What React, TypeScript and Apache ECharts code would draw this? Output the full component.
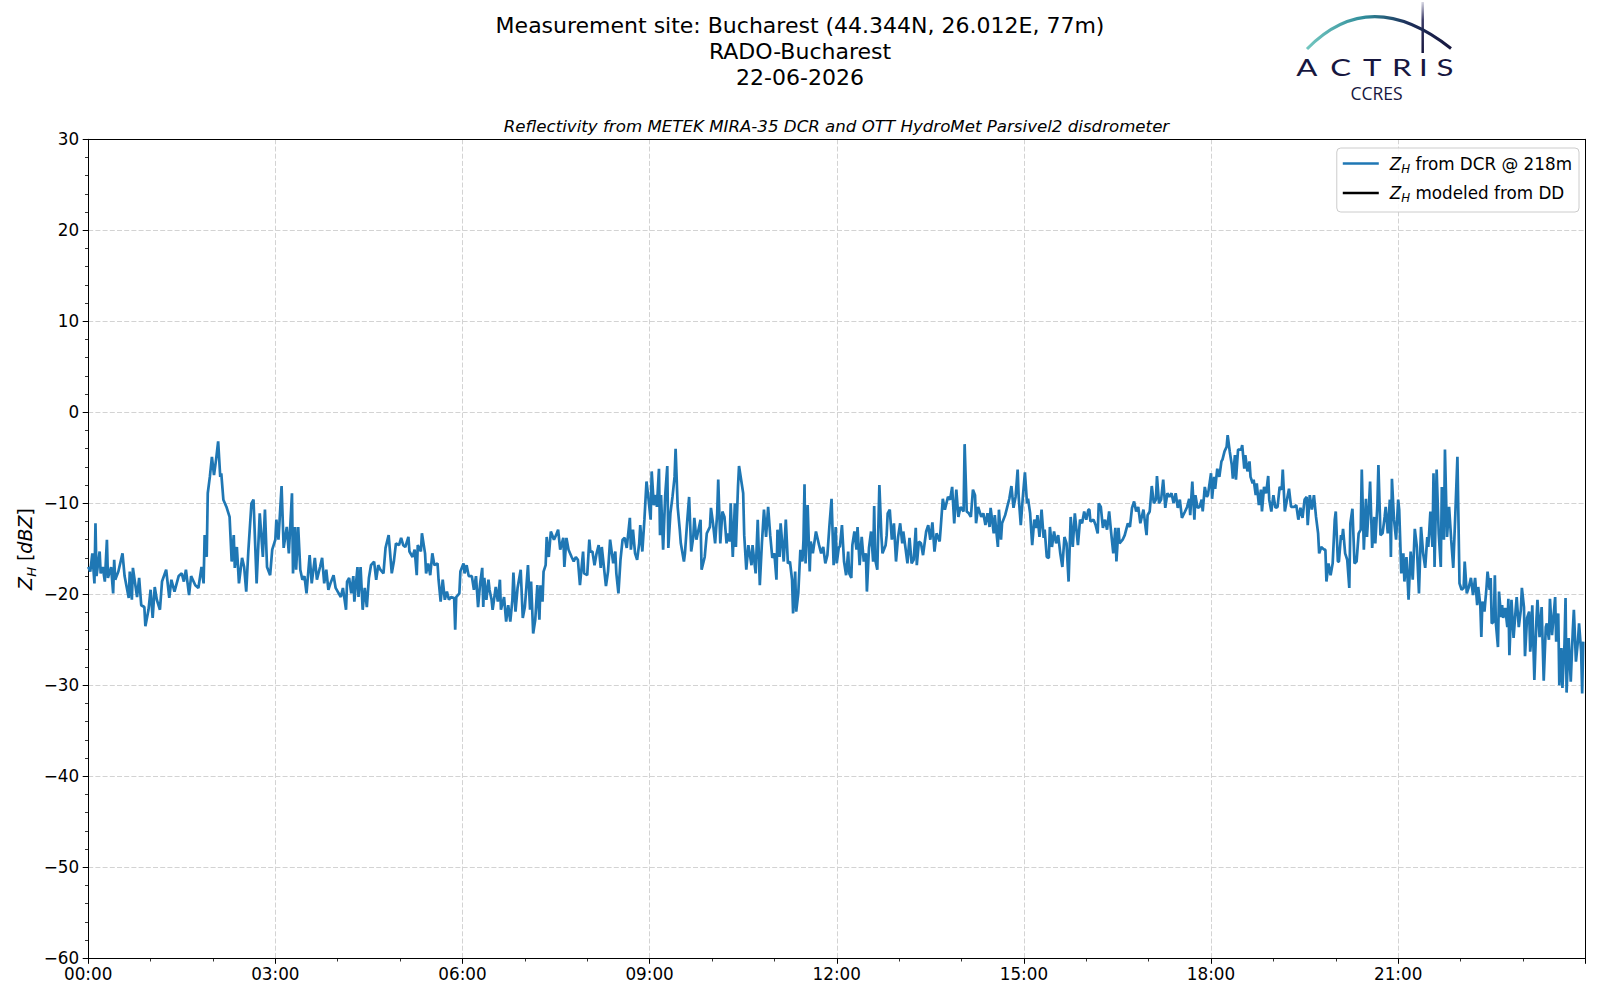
import React, { useEffect, useRef } from "react";
import * as echarts from "echarts";

// ---- Data ----
// time in minutes after 00:00 UTC
const timeMin = [
  0, 2, 4, 6, 7, 8, 11, 12, 14, 16, 18, 19, 22, 24, 25, 26, 29, 33, 35, 39,
  40, 42, 43, 47, 49, 51, 54, 55, 58, 60, 62, 64, 66, 69, 71, 75, 78, 80, 83, 87,
  90, 92, 94, 97, 99, 103, 106, 109, 111, 112, 114, 115, 117, 119, 121, 123, 125, 127, 128, 130,
  133, 136, 138, 140, 141, 143, 145, 148, 150, 152, 154, 156, 157, 159, 162, 165, 168, 170, 172, 175,
  177, 180, 181, 183, 186, 188, 191, 193, 196, 197, 199, 200, 202, 204, 206, 208, 210, 213, 215, 218,
  220, 223, 225, 227, 229, 231, 233, 236, 238, 240,
  243, 245, 248, 249, 251, 253, 255, 256, 259, 260, 262, 264, 266, 268, 270, 272, 275, 277, 279, 281,
  284, 286, 289, 292, 294, 296, 299, 301, 303, 305, 308, 309, 312, 314, 316, 317, 320, 321, 324, 325,
  327, 329, 331, 333, 336, 337, 339, 341, 343, 345, 347, 349, 352, 353, 354, 357, 358, 361, 362, 364,
  366, 369, 371, 373, 375, 377, 379, 380, 381, 383, 385, 386, 388, 389, 392, 394, 396, 397, 400, 402,
  404, 406, 408, 409, 411, 413, 416, 418, 420, 421, 423, 425, 426, 428, 430, 432, 434, 435, 437, 438,
  440, 441, 443, 445, 448, 450, 452, 454, 457, 458, 460, 462, 465, 467, 469, 471, 473, 476, 477, 480, 482,
  483, 485, 487, 489, 491, 493, 494, 498, 500, 502, 505, 507, 508, 510, 512, 514, 516, 518, 521, 522,
  524, 526, 528, 530, 531, 533, 535, 537, 539, 541, 542, 544, 546, 547, 549, 550, 551, 553, 555, 557,
  558, 560, 562, 564, 565, 567, 569, 570, 573, 574, 576, 578, 580, 582, 583, 585, 587, 589, 590, 593,
  595, 598, 599, 601, 603, 605, 606, 608, 610, 612, 614, 615, 617, 618, 620, 622, 623, 625, 626, 630,
  631, 633, 635, 638, 639, 642, 644, 646, 648, 650, 652, 654, 656, 658, 660, 662, 663, 665, 666, 669,
  671, 673, 675, 677, 678, 680, 681, 683, 685, 687, 688, 689, 690, 692, 694, 695, 697, 700, 703, 705,
  707, 709, 711, 713, 715, 717, 719, 720, 722,
  723, 725, 727, 729, 731, 732, 734, 735, 737, 739, 740, 742, 744, 746, 748, 749, 751, 753, 755, 756,
  757, 759, 761, 763, 764, 767, 768, 769, 771, 773, 775, 777, 779, 781, 783, 784, 786, 788, 790, 792,
  794, 796, 797, 799, 801, 803, 806, 808, 810, 812, 814, 816, 819, 820, 822, 824, 827, 829, 831, 833,
  835, 837, 839, 842, 843, 845, 847, 849, 851, 853, 854, 856, 859, 861, 863, 865, 867, 868, 871, 872,
  875, 876, 878, 879, 882, 884, 886, 888, 890, 892, 894, 895, 897, 899, 901, 903, 904, 906, 908, 910,
  912, 913, 915, 917, 919, 920, 922, 924, 925, 927, 929, 931, 933, 935, 937, 939, 941, 943, 945, 947,
  949, 952, 954, 956, 958, 960, 962,
  963, 964, 967, 969, 971, 972, 974, 976, 978, 980, 982, 984, 985, 986, 988, 989, 991, 992, 995, 997,
  1000, 1002, 1004, 1006, 1008, 1010, 1012, 1015, 1017, 1018, 1019, 1021, 1023, 1025, 1027, 1028, 1030, 1032, 1034, 1036,
  1038, 1040, 1042, 1044, 1046, 1048, 1050, 1052, 1055, 1057, 1059, 1060, 1062, 1064, 1065, 1067, 1069, 1071, 1072, 1074,
  1076, 1077, 1080, 1081, 1083, 1084, 1086, 1088, 1090, 1091, 1093, 1095, 1096, 1098, 1100, 1101, 1103, 1104, 1106, 1109,
  1110, 1112, 1113, 1115, 1117, 1118, 1120, 1121, 1123, 1124, 1126, 1128, 1129, 1131, 1133, 1135, 1136, 1138, 1140, 1142,
  1144, 1146, 1148, 1149, 1151, 1153, 1155, 1157, 1160, 1162, 1164, 1166, 1168, 1170, 1172, 1173, 1175, 1177, 1179, 1181,
  1183, 1184, 1186, 1189, 1190, 1191, 1193, 1195, 1197, 1199, 1200, 1202,
  1203, 1205, 1206, 1207, 1209, 1211, 1213, 1214, 1216, 1218, 1220, 1222, 1224, 1225, 1227, 1229, 1230, 1232, 1233, 1235,
  1237, 1238, 1240, 1241, 1243, 1245, 1247, 1248, 1250, 1252, 1253, 1254, 1256, 1258, 1260, 1261, 1263, 1265, 1266, 1268,
  1270, 1272, 1274, 1276, 1278, 1280, 1282, 1284, 1286, 1288, 1289, 1291, 1293, 1294, 1295, 1297, 1299, 1301, 1302, 1304,
  1305, 1307, 1309, 1311, 1313, 1315, 1317, 1319, 1321, 1323, 1324, 1326, 1328, 1330, 1332, 1334, 1336,
  1337, 1339, 1340, 1341, 1343, 1345, 1346, 1348, 1349, 1350, 1352, 1353, 1354, 1356, 1357, 1359, 1360, 1361, 1363, 1365,
  1366, 1367, 1369, 1371, 1373, 1374, 1376, 1378, 1379, 1381, 1382, 1384, 1386, 1387, 1388, 1389, 1391, 1393, 1394, 1396,
  1398, 1400, 1402, 1403, 1405, 1406, 1408, 1411, 1412, 1414, 1415, 1417, 1418, 1420, 1421, 1422, 1424, 1426, 1428, 1429,
  1431, 1433, 1434, 1436, 1437, 1438,
];

// Z_H from DCR @ 218m [dBZ]
const zhDcr = [
  -17.0, -17.5, -15.5, -18.8, -12.2, -18.0, -15.3, -17.7, -17.0, -18.6, -14.0, -18.2, -17.0, -19.9, -16.2, -18.4, -17.5, -15.5, -18.0, -20.4,
  -17.5, -20.6, -17.1, -20.3, -18.2, -21.2, -21.4, -23.5, -21.7, -19.5, -22.6, -19.2, -20.6, -21.7, -18.6, -17.3, -20.4, -18.4, -19.7, -18.0,
  -17.7, -18.6, -17.3, -20.1, -18.0, -19.0, -19.3, -17.0, -18.8, -13.5, -15.9, -8.9, -7.1, -4.9, -6.9, -5.2, -3.2, -7.1, -6.7, -9.6,
  -10.4, -11.5, -16.4, -13.5, -17.1, -14.8, -18.8, -16.0, -17.0, -19.7, -15.3, -11.8, -10.0, -9.6, -18.8, -11.1, -15.9, -10.7, -17.0, -17.9,
  -15.1, -14.0, -11.8, -14.0, -8.1, -14.9, -12.6, -15.5, -8.9, -17.7, -12.6, -17.3, -12.6, -17.3, -18.4, -18.0, -19.9, -15.7, -18.8, -16.0,
  -18.4, -17.0, -16.0, -18.8, -17.3, -19.5, -18.8, -17.9, -19.3, -19.7,
  -20.3, -19.3, -21.7, -18.6, -18.2, -19.9, -18.0, -20.8, -17.0, -20.3, -17.0, -21.7, -19.3, -21.4, -18.2, -16.8, -16.4, -18.4, -16.8, -17.3,
  -17.7, -14.9, -13.5, -17.7, -16.4, -14.4, -14.6, -13.8, -14.6, -14.8, -13.7, -15.3, -15.9, -15.1, -17.9, -14.6, -15.3, -13.3, -15.5, -17.7,
  -16.6, -17.9, -15.5, -16.8, -16.6, -18.4, -20.8, -18.4, -20.6, -19.7, -20.6, -20.3, -20.4, -23.9, -20.3, -19.9, -17.5, -16.6, -17.7, -16.8,
  -18.0, -18.0, -19.5, -18.0, -21.4, -18.8, -17.1, -21.4, -18.2, -20.6, -18.4, -19.5, -20.6, -21.7, -19.2, -20.8, -18.4, -21.7, -20.3, -23.0,
  -21.2, -23.0, -20.6, -17.6, -21.9, -19.3, -17.3, -22.6, -21.4, -19.9, -16.8, -21.7, -18.6, -24.3, -22.8, -19.0, -22.8, -19.0, -20.8, -17.5,
  -16.8, -13.7, -15.9, -13.1, -14.0, -13.5, -12.9, -15.1, -13.8, -17.0, -13.8, -15.1, -15.9, -16.4, -15.9, -16.2, -19.0, -15.3, -17.7, -17.9, -14.0,
  -15.3, -15.3, -16.8, -15.5, -14.6, -17.1, -14.8, -19.1, -17.5, -14.0, -16.6, -15.3, -17.7, -19.9, -16.2, -14.0, -13.8, -14.9, -11.6, -15.1,
  -12.9, -15.5, -16.2, -14.4, -12.4, -15.3, -11.8, -7.6, -9.6, -11.8, -6.5, -10.2, -9.1, -10.4, -6.2, -13.5, -9.1, -15.1, -9.1, -5.9,
  -14.9, -11.1, -9.3, -7.1, -4.0, -10.4, -12.9, -14.4, -16.4, -15.5, -12.2, -9.3, -15.3, -13.7, -11.6, -14.0, -12.9, -11.8, -17.3, -15.9,
  -13.3, -12.6, -10.5, -12.2, -14.4, -11.1, -7.4, -14.4, -10.9, -11.5, -14.4, -13.3, -14.2, -10.0, -15.9, -10.0, -14.8, -8.2, -5.9, -8.9,
  -13.5, -17.3, -14.6, -16.8, -14.6, -17.7, -11.8, -19.0, -14.4, -10.7, -13.7, -10.4, -13.5, -16.0, -15.5, -18.4, -12.9, -15.9, -12.2, -16.4,
  -11.8, -16.6, -16.4, -18.4, -22.1, -17.5, -21.9, -19.9, -15.1, -16.4, -14.0, -7.9, -16.6, -10.2, -17.5, -14.2, -15.5, -13.1, -14.6, -15.5,
  -14.8, -16.6, -15.7, -12.4, -9.5, -16.8, -12.6, -16.6, -14.8,
  -14.8, -12.4, -16.4, -17.9, -15.3, -17.7, -18.2, -14.6, -13.1, -15.1, -12.6, -16.8, -13.7, -16.4, -15.5, -19.7, -14.9, -13.1, -16.4, -10.3,
  -16.2, -17.3, -8.0, -13.7, -15.5, -14.6, -13.5, -11.1, -10.7, -14.0, -12.2, -16.4, -13.7, -12.2, -14.4, -13.1, -14.8, -16.6, -13.8, -16.6,
  -16.2, -12.7, -16.8, -14.2, -14.4, -15.7, -13.1, -12.4, -14.0, -12.1, -15.3, -13.3, -14.2, -12.7, -9.5, -10.7, -9.3, -9.6, -8.2, -12.2,
  -8.5, -11.5, -10.4, -10.9, -3.5, -10.9, -11.1, -11.5, -8.5, -9.1, -12.2, -10.4, -11.5, -11.1, -12.4, -11.1, -12.6, -10.5, -13.3, -11.3,
  -14.8, -10.7, -14.0, -12.2, -11.3, -10.4, -9.5, -8.1, -10.5, -9.3, -6.3, -9.3, -12.4, -9.3, -6.6, -10.0, -9.5, -11.1, -14.6, -11.8,
  -12.7, -11.3, -13.7, -10.7, -13.8, -12.9, -15.9, -16.0, -12.6, -14.8, -13.1, -14.4, -13.5, -15.5, -17.0, -13.7, -14.4, -18.6, -11.5, -14.8,
  -11.1, -14.6, -11.8, -12.2, -10.9, -11.8, -10.7,
  -10.7, -12.0, -11.8, -12.4, -13.3, -10.0, -10.4, -12.7, -11.8, -12.9, -10.9, -13.3, -14.4, -15.5, -12.7, -16.4, -12.7, -14.4, -14.0, -13.5,
  -12.2, -12.6, -10.5, -9.8, -10.9, -10.4, -12.2, -10.7, -12.6, -13.5, -11.3, -10.9, -8.1, -10.0, -9.6, -7.0, -10.0, -9.6, -7.4, -10.5,
  -8.9, -9.3, -8.9, -10.0, -8.9, -10.5, -9.6, -11.6, -10.9, -10.4, -9.5, -11.3, -7.6, -11.8, -9.1, -10.5, -10.4, -9.6, -10.9, -8.2,
  -9.3, -9.1, -6.7, -9.5, -7.1, -8.4, -6.2, -7.1, -5.4, -5.2, -4.3, -3.8, -2.5, -4.3, -5.8, -7.3, -4.7, -7.4, -4.1, -4.1,
  -3.6, -6.2, -4.7, -6.5, -5.4, -7.1, -7.8, -7.4, -9.1, -7.8, -10.2, -8.5, -10.9, -8.2, -8.9, -7.0, -9.6, -10.9, -9.1, -10.5,
  -10.4, -8.2, -8.5, -6.3, -10.9, -9.6, -8.4, -10.4, -10.4, -10.2, -11.8, -10.5, -11.6, -9.6, -9.3, -12.4, -9.1, -10.7, -9.1, -11.5,
  -13.3, -15.5, -14.8, -15.1, -15.1, -18.6, -16.6, -17.9, -16.6, -11.8, -10.9, -16.4,
  -16.4, -13.5, -14.0, -12.8, -15.5, -16.2, -19.3, -12.2, -10.6, -16.6, -16.4, -13.3, -12.9, -6.3, -15.1, -9.5, -13.7, -10.0, -7.6, -14.9,
  -11.5, -14.4, -10.2, -5.8, -13.5, -13.3, -11.5, -10.4, -13.3, -9.6, -15.9, -7.3, -11.8, -14.0, -9.6, -10.7, -17.7, -15.5, -18.6, -15.9,
  -20.6, -15.3, -18.4, -12.8, -14.8, -19.9, -12.6, -15.5, -17.1, -13.7, -14.8, -10.9, -14.8, -6.7, -17.0, -6.3, -13.3, -17.0, -8.2, -14.0,
  -4.1, -13.7, -10.4, -14.0, -17.1, -11.1, -4.9, -18.8, -19.5, -19.3, -16.4, -19.9, -19.2, -18.2, -20.1, -18.2, -21.2,
  -19.2, -21.2, -24.7, -20.8, -21.9, -19.2, -17.5, -19.5, -18.2, -23.2, -23.0, -17.9, -23.2, -25.8, -19.7, -22.5, -21.2, -22.6, -21.5, -23.6,
  -20.5, -26.7, -20.6, -24.8, -21.7, -20.3, -23.6, -21.7, -19.3, -21.4, -26.8, -22.6, -21.9, -26.3, -25.0, -21.2, -29.4, -22.8, -20.6, -24.7,
  -21.4, -29.5, -23.6, -23.2, -25.0, -20.5, -24.5, -20.3, -25.2, -22.1, -30.0, -25.9, -30.3, -25.4, -20.4, -30.8, -24.8, -29.6, -23.9, -21.7,
  -27.4, -25.0, -23.2, -26.3, -30.9, -25.2,
];

// Z_H modeled from the disdrometer (no data on this day)
const zhModeled: number[] = [];

const xTickLabels = ["00:00", "03:00", "06:00", "09:00", "12:00", "15:00", "18:00", "21:00"];

const titleLines = [
  "Measurement site: Bucharest (44.344N, 26.012E, 77m)",
  "RADO-Bucharest",
  "22-06-2026",
];
const subTitle = "Reflectivity from METEK MIRA-35 DCR and OTT HydroMet Parsivel2 disdrometer";
const logoLetters = ["A", "C", "T", "R", "I", "S"];

const FONT = "DejaVu Sans";
const BLUE = "#1f77b4";
const NAVY = "#17173f";

export default function App() {
  const ref = useRef<HTMLDivElement>(null);

  useEffect(() => {
    if (!ref.current) return;
    const chart = echarts.init(ref.current, null, { renderer: "svg" });

    const subRich = {
      z: { fontFamily: FONT, fontSize: 16.8, fontStyle: "italic", color: "#000", lineHeight: 22 },
      s: { fontFamily: FONT, fontSize: 11.8, fontStyle: "italic", color: "#000", lineHeight: 12, verticalAlign: "bottom" },
      t: { fontFamily: FONT, fontSize: 16.8, color: "#000", lineHeight: 22 },
      g: { width: 6, lineHeight: 22 },
    };

    const legendNames: Record<string, string> = {
      dcr: "{g|}{z|Z}{s|H}{t| from DCR @ 218m}",
      dd: "{g|}{z|Z}{s|H}{t| modeled from DD}",
    };

    const letterX = [1306.7, 1340.7, 1372.3, 1401.7, 1423.3, 1445];

    const graphics: any[] = [
      {
        type: "text",
        x: 800,
        y: 51.5,
        style: {
          text: titleLines.join("\n"),
          fontFamily: FONT,
          fontSize: 22,
          lineHeight: 25.8,
          fill: "#000",
          align: "center",
          verticalAlign: "middle",
        },
      },
      {
        type: "text",
        x: 836.5,
        y: 126,
        style: { text: subTitle, fontFamily: FONT, fontSize: 16.65, fontStyle: "italic", fill: "#000", align: "center", verticalAlign: "middle" },
      },
      {
        type: "text",
        x: 25,
        y: 549,
        rotation: Math.PI / 2,
        style: {
          text: "{z|Z}{s|H}{t| [}{z|dBZ}{t|]}",
          rich: {
            z: { fontFamily: FONT, fontSize: 19, fontStyle: "italic", fill: "#000", lineHeight: 25 },
            s: { fontFamily: FONT, fontSize: 13, fontStyle: "italic", fill: "#000", lineHeight: 13, verticalAlign: "bottom" },
            t: { fontFamily: FONT, fontSize: 19, fill: "#000", lineHeight: 25 },
          },
          align: "center",
          verticalAlign: "middle",
        },
      },
      // ACTRIS logo
      {
        type: "line",
        shape: { x1: 1422.7, y1: 2, x2: 1422.7, y2: 53 },
        style: {
          stroke: new echarts.graphic.LinearGradient(1422.7, 2, 1422.7, 53, [
            { offset: 0, color: "#d8d8e4" },
            { offset: 0.35, color: "#3a3a66" },
            { offset: 1, color: NAVY },
          ], true),
          lineWidth: 2.5,
        },
      },
      {
        type: "bezierCurve",
        shape: { x1: 1307, y1: 49, x2: 1451, y2: 48.5, cpx1: 1370, cpy1: -15.4 },
        style: {
          fill: "none",
          stroke: new echarts.graphic.LinearGradient(0, 0, 1, 0, [
            { offset: 0, color: "#72c6bf" },
            { offset: 0.4, color: "#2f8c9a" },
            { offset: 0.7, color: "#1d2f5a" },
            { offset: 1, color: NAVY },
          ]),
          lineWidth: 3,
        },
      },
      ...logoLetters.map((l, i) => ({
        type: "text",
        x: letterX[i],
        y: 67,
        scaleX: 1.3,
        style: { text: l, fontFamily: "Lato", fontSize: 24, fill: NAVY, align: "center", verticalAlign: "middle" },
      })),
      {
        type: "text",
        x: 1376.5,
        y: 92.5,
        style: { text: "CCRES", fontFamily: "Open Sans", fontSize: 17.5, fill: NAVY, align: "center", verticalAlign: "middle" },
      },
    ];

    const spineAxis = {
      show: true,
      axisLine: { show: true, onZero: false, lineStyle: { color: "#000", width: 1 } },
      axisTick: { show: false },
      axisLabel: { show: false },
      splitLine: { show: false },
      minorTick: { show: false },
    };

    const option: any = {
      animation: false,
      backgroundColor: "#ffffff",
      textStyle: { fontFamily: FONT },
      grid: {
        left: 88.2,
        right: 14.7,
        top: 139.3,
        bottom: 41.7,
        show: false,
      },
      legend: {
        orient: "vertical",
        right: 21,
        top: 148,
        data: [
          { name: "dcr", itemStyle: { color: BLUE } },
          { name: "dd", itemStyle: { color: "#000" } },
        ],
        icon: "rect",
        itemWidth: 36,
        itemHeight: 2.5,
        itemGap: 10,
        padding: [7, 7, 8, 6],
        backgroundColor: "rgba(255,255,255,0.85)",
        borderColor: "#cccccc",
        borderWidth: 1,
        borderRadius: 4,
        formatter: (n: string) => legendNames[n],
        textStyle: { fontFamily: FONT, fontSize: 16.8, color: "#000", rich: subRich },
      },
      xAxis: [
        {
          type: "value",
          min: 0,
          max: 1440,
          interval: 180,
          axisLine: { show: true, onZero: false, lineStyle: { color: "#000", width: 1 } },
          axisTick: { show: true, length: 5.5, lineStyle: { color: "#000", width: 1 } },
          minorTick: { show: true, splitNumber: 3, length: 3.2, lineStyle: { color: "#000", width: 0.8 } },
          axisLabel: {
            show: true,
            margin: 7,
            fontFamily: FONT,
            fontSize: 16.8,
            color: "#000",
            showMaxLabel: false,
            formatter: (v: number) => (v >= 1440 ? "" : xTickLabels[Math.round(v / 180)] ?? ""),
          },
          splitLine: { show: true, lineStyle: { color: "#d3d3d3", width: 1, type: [5, 2.2] } },
        },
        { type: "value", position: "top", min: 0, max: 1440, interval: 180, ...spineAxis },
      ],
      yAxis: [
        {
          type: "value",
          min: -60,
          max: 30,
          interval: 10,
          axisLine: { show: true, onZero: false, lineStyle: { color: "#000", width: 1 } },
          axisTick: { show: true, length: 5.5, lineStyle: { color: "#000", width: 1 } },
          minorTick: { show: true, splitNumber: 5, length: 3.2, lineStyle: { color: "#000", width: 0.8 } },
          axisLabel: {
            margin: 9,
            fontFamily: FONT,
            fontSize: 16.8,
            color: "#000",
            formatter: (v: number) => (v < 0 ? "\u2212" + Math.abs(v) : String(v)),
          },
          splitLine: { show: true, lineStyle: { color: "#d3d3d3", width: 1, type: [5, 2.2] } },
        },
        { type: "value", position: "right", min: -60, max: 30, interval: 10, ...spineAxis },
      ],
      series: [
        {
          name: "dcr",
          type: "line",
          xAxisIndex: 0,
          yAxisIndex: 0,
          data: timeMin.map((t, i) => [t, zhDcr[i]]),
          showSymbol: false,
          symbol: "none",
          clip: true,
          lineStyle: { color: BLUE, width: 2.7 },
          itemStyle: { color: BLUE },
          z: 3,
        },
        {
          name: "dd",
          type: "line",
          xAxisIndex: 0,
          yAxisIndex: 0,
          data: zhModeled,
          showSymbol: false,
          symbol: "none",
          lineStyle: { color: "#000", width: 2.7 },
          itemStyle: { color: "#000" },
          z: 4,
        },
      ],
      graphic: graphics,
    };

    chart.setOption(option);
    return () => chart.dispose();
  }, []);

  return (
    <div
      ref={ref}
      style={{ position: "absolute", left: 0, top: 0, width: 1600, height: 1000, background: "#fff" }}
    />
  );
}
